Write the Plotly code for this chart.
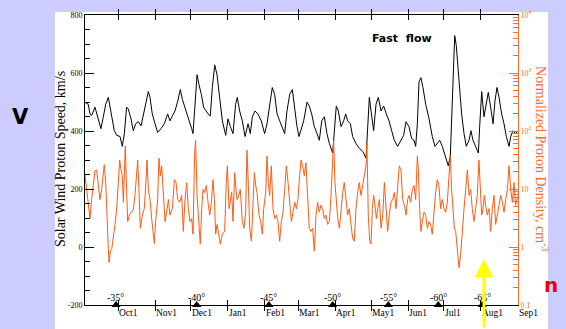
import pandas as pd
import plotly.graph_objects as go

BASE = pd.Timestamp("1993-09-01")

# Solar wind speed (days since Sep 1, km/s)
speed_day = [2.3,5.1,6.5,7.9,10.7,13.5,15.7,17.7,19.7,21.9,23.3,24.7,26.9,28.9,31.7,33.6,35.3,37.2,38.6,40.9,42.8,44.8,47.0,49.3,51.2,53.2,55.4,56.8,58.7,61.0,63.2,66.0,68.8,71.6,73.5,75.5,77.7,80.0,82.2,83.9,86.1,88.9,91.7,
             92.8,94.2,96.2,97.8,99.8,101.7,103.4,105.4,107.3,109.0,111.0,112.9,115.1,117.4,120.2,122.1,124.1,126.3,128.5,129.9,131.9,134.1,136.4,138.9,140.8,142.5,144.7,147.2,150.0,152.8,154.8,157.0,159.2,161.2,163.2,165.4,167.6,169.6,171.5,173.8,176.0,178.0,179.9,181.6,
             183.3,185.5,188.3,190.2,192.2,194.4,196.7,198.6,200.6,202.8,205.0,207.0,209.8,211.2,212.8,214.5,216.8,219.0,220.7,222.3,224.6,226.5,229.3,232.1,234.9,237.7,239.1,240.5,241.9,244.1,246.1,248.0,250.3,252.5,254.7,257.0,259.2,261.4,264.2,267.0,269.2,271.2,
             273.7,275.9,277.9,279.3,280.7,282.1,283.7,285.4,287.7,290.5,293.2,295.5,297.4,299.4,301.6,304.4,306.6,308.3,309.4,310.8,312.0,313.3,315.6,317.8,319.8,321.7,324.0,325.6,327.3,329.5,331.8,332.9,334.6,336.5,338.5,340.1,342.1,344.1,345.7,347.4,349.1,351.3,353.3,355.2,357.5,358.9,360.8,363.0,365.0]
speed_kms = [499,492,459,453,482,435,408,449,492,516,486,452,401,385,381,347,391,482,476,442,401,425,432,418,452,492,536,516,459,425,395,408,425,459,435,452,469,503,543,509,482,442,408,
             391,469,594,560,526,482,469,459,452,550,628,594,516,435,385,442,415,391,492,516,469,435,381,425,391,449,469,459,435,391,425,492,550,526,459,435,415,391,469,526,543,469,415,381,
             408,435,499,486,459,415,391,368,435,449,391,357,324,391,486,469,415,435,459,435,425,381,357,340,330,307,401,516,469,401,492,516,469,486,459,435,401,368,347,368,385,432,
             415,374,368,347,425,570,584,550,492,442,381,347,357,368,347,313,280,313,449,651,729,695,560,459,391,347,368,401,368,347,324,415,536,449,492,533,482,425,503,550,516,459,425,381,347,381,401,391,401]

# Normalized proton density (days since Sep 1, cm^-3)
dens_day = [2.3,3.7,5.1,6.5,7.9,9.3,10.7,12.1,13.5,14.9,16.3,17.7,18.5,19.7,20.8,21.9,22.5,23.6,24.7,26.1,27.5,28.9,30.3,31.4,32.5,33.6,34.5,35.3,36.1,37.0,38.1,39.5,41.4,42.8,44.2,45.6,46.5,47.6,48.7,50.4,52.0,53.2,54.3,55.4,56.8,58.2,59.6,60.4,61.5,63.2,64.3,65.4,66.6,68.0,69.4,70.8,72.2,73.5,75.5,77.2,78.6,80.0,81.6,83.3,84.7,86.1,87.5,88.9,90.3,91.7,
            92.8,94.2,95.0,96.2,97.8,98.9,100.1,101.2,102.6,104.0,105.4,106.8,108.2,109.6,110.7,111.8,112.9,114.6,115.7,117.4,119.3,120.7,121.6,123.0,124.1,125.2,126.3,127.7,128.5,129.7,131.3,132.4,134.1,135.5,136.9,138.0,139.1,140.3,141.7,143.1,144.2,145.3,146.4,148.1,149.5,150.9,152.0,153.7,154.8,155.9,157.0,158.4,159.8,161.2,162.6,164.0,165.4,166.8,168.2,169.6,171.0,172.4,173.8,175.2,176.6,178.0,179.4,180.7,182.1,
            183.3,184.6,186.0,187.4,188.8,190.2,191.6,193.0,194.4,195.8,197.2,198.6,200.0,201.4,202.8,204.2,205.6,207.0,208.4,209.8,210.6,211.7,212.8,214.0,215.4,216.8,218.2,219.5,220.9,222.3,223.7,225.1,226.5,227.9,229.3,230.7,232.1,233.5,234.9,236.3,237.7,238.5,239.6,240.8,241.9,243.0,244.1,245.2,246.4,247.5,248.9,250.3,251.7,253.1,254.4,255.8,257.2,258.6,260.0,261.4,262.8,264.2,265.6,267.0,268.4,269.8,271.2,272.6,
            273.7,275.1,276.5,277.9,279.3,280.7,281.5,282.6,283.7,284.9,286.3,287.7,289.1,290.5,291.8,293.2,294.6,296.0,297.4,298.8,300.2,301.6,303.0,304.4,305.8,307.2,308.3,309.4,310.6,311.7,312.8,314.2,315.6,317.0,318.4,319.8,321.2,322.6,324.0,325.4,326.7,328.1,329.5,330.9,332.3,333.5,334.6,335.7,336.8,337.9,339.3,340.7,342.1,343.5,344.9,346.3,347.7,349.1,350.5,351.9,353.3,354.7,356.1,357.5,358.9,360.3,361.7,363.0,365.0]
dens_cm3 = [17.8,9.8,6.6,3.1,6.6,12.9,20.4,21.4,11.5,6.6,9.8,21.4,26.3,12.9,2.1,0.95,0.54,0.85,0.91,1.41,2.45,4.57,17.0,31.6,21.4,17.0,5.9,31.6,55,12.9,2.75,3.55,3.98,4.37,7.76,17.0,31.6,8.7,2.1,3.55,4.57,11.5,31.6,9.8,6.6,3.1,1.66,1.15,2.75,6.6,33.9,17.0,25.1,8.7,2.75,3.98,6.6,3.55,4.57,14.5,12.9,6.6,5.9,7.76,1.86,6.6,12.9,4.57,2.75,3.1,
            1.66,41.7,69,7.76,2.45,1.12,4.57,9.8,8.7,11.5,5.9,3.55,5.9,14.5,6.6,1.66,2.45,1.41,1.12,1.66,1.86,12.9,25.1,4.57,5.9,8.7,2.75,19.1,11.5,6.6,7.76,9.8,2.75,2.1,3.98,46.8,12.9,2.1,1.26,5.9,19.1,11.5,8.7,3.55,2.75,1.66,4.57,8.7,37.2,12.9,7.76,25.1,4.57,3.1,3.55,2.75,1.26,2.75,3.98,9.8,25.1,12.9,5.25,2.75,3.98,5.9,4.57,6.6,17.0,
            31.6,25.1,17.0,28.2,7.76,2.1,1.86,2.1,0.85,3.55,5.9,3.98,5.25,4.57,3.1,3.55,2.45,2.75,7.76,31.6,69,12.9,6.6,3.1,2.1,4.57,8.7,12.9,6.6,3.55,4.57,2.75,1.41,1.26,4.57,8.7,12.9,7.76,11.5,14.5,25.1,61.7,3.55,1.26,1.12,4.57,7.76,5.25,3.1,4.57,6.6,2.1,3.55,12.9,5.9,1.86,3.55,5.9,6.6,8.7,4.57,12.9,25.1,21.4,6.6,5.25,3.55,6.6,
            7.76,5.9,9.8,11.5,6.6,37.2,21.4,4.57,1.86,2.75,3.98,3.55,2.1,2.75,2.45,1.66,4.57,8.7,14.5,11.5,4.57,6.6,4.57,3.98,5.9,21.4,37.2,9.8,3.55,2.1,1.86,0.95,0.44,0.76,2.1,4.57,9.8,21.4,7.76,9.8,4.57,2.75,4.57,7.76,31.6,9.8,3.55,4.57,7.76,5.25,3.55,4.57,1.86,4.57,7.76,2.45,3.55,4.57,7.76,5.9,3.98,6.6,9.8,25.1,9.8,5.9,12.9,5.25,7.76]

# Heliolatitude markers
lat_day = [28.3, 95.9, 156.4, 209.8, 256.4, 298.2, 335.1]
lat_text = ["-35°", "-40°", "-45°", "-50°", "-55°", "-60°", "-65°"]

month_dates = ["1993-10-01", "1993-11-01", "1993-12-01", "1994-01-01", "1994-02-01", "1994-03-01",
               "1994-04-01", "1994-05-01", "1994-06-01", "1994-07-01", "1994-08-01", "1994-09-01"]
month_text = ["Oct1", "Nov1", "Dec1", "Jan1", "Feb1", "Mar1", "Apr1", "May1", "Jun1", "Jul1", "Aug1", "Sep1"]

v_ticks = [-200, 0, 200, 400, 600, 800]
v_ticktext = ["-200", "0", "200", "400", "600", "800"]
v_minor = [-150, -100, -50, 50, 100, 150, 250, 300, 350, 450, 500, 550, 650, 700, 750]
n_ticks = [0.1, 1, 10, 100, 1000, 10000]
n_ticktext = ["0.1", "1", "10", "10<sup>2</sup>", "10<sup>3</sup>", "10<sup>4</sup>"]
n_minor = [m * 10 ** e for e in range(-1, 4) for m in range(2, 10)]


def to_dates(days):
    return [BASE + pd.Timedelta(days=d) for d in days]


ORANGE = "#ff6a2a"
SERIF = "Liberation Serif"

W, H = 566, 329
L, R, T, B = 85, 48, 9, 24
PW, PH = W - L - R, H - T - B


def px(x):
    return (x - L) / PW


def py(y):
    return (H - B - y) / PH


fig = go.Figure()
fig.add_trace(go.Scatter(x=to_dates(dens_day), y=dens_cm3, mode="lines", yaxis="y2",
                         line=dict(color="#ff5a14", width=1), showlegend=False))
fig.add_trace(go.Scatter(x=to_dates(speed_day), y=speed_kms, mode="lines", yaxis="y",
                         line=dict(color="black", width=1), showlegend=False))
fig.add_trace(go.Scatter(x=to_dates(lat_day), y=[-200] * len(lat_day), mode="markers", yaxis="y",
                         marker=dict(symbol="triangle-up", size=8, color="black"),
                         cliponaxis=False, showlegend=False))
fig.add_trace(go.Scatter(x=[], y=[], yaxis="y3", showlegend=False))
fig.add_trace(go.Scatter(x=[], y=[], yaxis="y4", showlegend=False))

ann = []
for d, t in zip(lat_day, lat_text):
    ann.append(dict(x=BASE + pd.Timedelta(days=d), xref="x", y=py(297.5), yref="paper", text=t,
                    showarrow=False, xanchor="center", yanchor="middle",
                    font=dict(family=SERIF, size=10, color="black")))
for d, t in zip(month_dates, month_text):
    ann.append(dict(x=d, xref="x", y=py(313.5), yref="paper", text=t, showarrow=False,
                    xanchor="left", yanchor="middle", xshift=-1,
                    font=dict(family=SERIF, size=9.5, color="black")))
ann += [
    dict(x=px(60), y=py(156), xref="paper", yref="paper", text="Solar Wind Proton Speed, km/s",
         textangle=-90, showarrow=False, xanchor="center", yanchor="middle",
         font=dict(family=SERIF, size=14, color="black")),
    dict(x=px(542), y=py(155), xref="paper", yref="paper",
         text="Normalized Proton Density, cm<sup>-3</sup>", xanchor="center", yanchor="middle",
         textangle=90, showarrow=False, font=dict(family=SERIF, size=14, color=ORANGE)),
    dict(x=px(402), y=py(33), xref="paper", yref="paper", text="<b>Fast\u00a0 flow</b>",
         showarrow=False, xanchor="center", yanchor="middle",
         font=dict(family="DejaVu Sans", size=11, color="black")),
    dict(x=px(20), y=py(113), xref="paper", yref="paper", text="<b>V</b>",
         showarrow=False, xanchor="center", yanchor="middle",
         font=dict(family="DejaVu Sans", size=21, color="black")),
    dict(x=px(551), y=py(285), xref="paper", yref="paper", text="<b>n</b>",
         showarrow=False, xanchor="center", yanchor="middle",
         font=dict(family="DejaVu Sans", size=20, color="#ee0000")),
    dict(x=px(484), y=py(258), xref="paper", yref="paper", text="", showarrow=True,
         ax=0, ay=75, arrowcolor="#ffff00", arrowwidth=3, arrowhead=2, arrowsize=1.2),
]

fig.update_layout(
    width=W, height=H,
    margin=dict(l=L, r=R, t=T, b=B, pad=0),
    paper_bgcolor="#ccccff", plot_bgcolor="white",
    showlegend=False,
    shapes=[dict(type="rect", xref="paper", yref="paper", x0=px(55), x1=px(548), y0=py(335), y1=py(6),
                 fillcolor="white", line=dict(width=0), layer="below")],
    annotations=ann,
    xaxis=dict(type="date", range=[BASE + pd.Timedelta(days=2.35), BASE + pd.Timedelta(days=365)],
               tickvals=month_dates, showticklabels=False, ticks="inside", ticklen=5,
               tickcolor="black", showline=True, linecolor="black", linewidth=1,
               mirror="allticks", showgrid=False, zeroline=False),
    yaxis=dict(range=[-200, 800], tickvals=v_ticks, ticktext=v_ticktext,
               ticks="inside", ticklen=9, tickcolor="black", showline=True, linecolor="black",
               linewidth=1, showgrid=False, zeroline=False, ticklabelposition="outside",
               tickfont=dict(family=SERIF, size=8, color="black")),
    yaxis4=dict(range=[-200, 800], overlaying="y", side="left", anchor="x",
                tickvals=v_minor, showticklabels=False, ticks="inside", ticklen=5,
                tickcolor="black", showline=False, showgrid=False, zeroline=False),
    yaxis2=dict(type="log", range=[-1, 4], overlaying="y", side="right", anchor="x",
                tickvals=n_ticks, ticktext=n_ticktext, ticks="inside", ticklen=9,
                tickcolor=ORANGE, showline=True, linecolor=ORANGE, linewidth=1,
                showgrid=False, zeroline=False,
                tickfont=dict(family=SERIF, size=8, color=ORANGE)),
    yaxis3=dict(type="log", range=[-1, 4], overlaying="y", side="right", anchor="x",
                tickvals=n_minor, showticklabels=False, ticks="inside", ticklen=5,
                tickcolor=ORANGE, showline=False, showgrid=False, zeroline=False),
)

fig.write_html("out.html")
